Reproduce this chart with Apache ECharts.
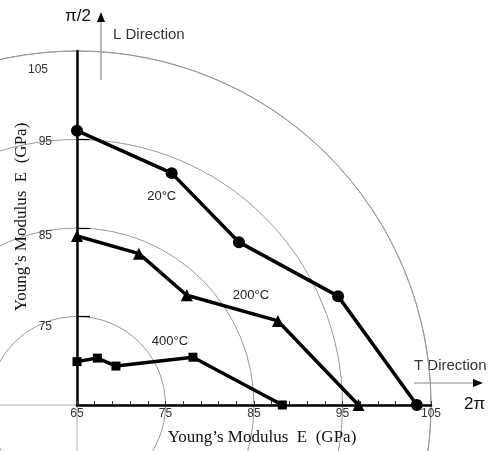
<!DOCTYPE html>
<html>
<head>
<meta charset="utf-8">
<script src="https://cdn.jsdelivr.net/npm/echarts@6.0.0/dist/echarts.min.js"></script>
<style>
html,body{margin:0;padding:0;background:#fff;}
#chart{width:488px;height:451px;}
</style>
</head>
<body>
<div id="chart"></div>
<script>
// ---- data ----
var series20 = [[65, 96.0], [75.7, 91.2], [83.3, 83.4], [94.5, 77.3], [103.4, 65]];
var series200 = [[65, 84.1], [72.0, 82.1], [77.4, 77.4], [87.7, 74.5], [96.8, 65]];
var series400 = [[65, 69.9], [67.3, 70.3], [69.4, 69.4], [78.1, 70.4], [88.2, 65]];
var seriesNames = ['20°C', '200°C', '400°C'];
var xTickLabels = [65, 75, 85, 95, 105];
var xMinorTicks = [65, 67, 69, 71, 73, 75, 77, 79, 81, 83, 85, 87, 89, 91, 93, 95, 97, 99, 101, 103, 105];
var yTickLabels = [75, 85, 95, 105];
var yTicks = [75, 85, 95];
var circleRadii = [10, 20, 30, 40];

var chart = echarts.init(document.getElementById('chart'), null, {renderer: 'canvas'});

var yRich = {
  s75: {padding: [20, 0, 0, 0]},
  s85: {padding: [16, 0, 0, 0]},
  s95: {padding: [4, 0, 0, 0]},
  s105: {padding: [38, 4, 0, 0]}
};
['s75','s85','s95','s105'].forEach(function(k){
  yRich[k].fontSize = 12; yRich[k].color = '#333'; yRich[k].fontFamily = 'Liberation Sans, Arial';
});

function lineSeries(name, data, symbol, size, labelIdx, labelOffset) {
  return {
    type: 'line',
    name: name,
    data: data.map(function (d, i) {
      var item = {value: d};
      if (i === labelIdx) {
        item.label = {
          show: true, position: 'inside', offset: labelOffset,
          formatter: name, color: '#222', fontSize: 13,
          fontFamily: 'Liberation Sans, Arial'
        };
      }
      return item;
    }),
    symbol: symbol,
    symbolSize: size,
    showAllSymbol: true,
    lineStyle: {color: '#000', width: 3.5},
    itemStyle: {color: '#000'},
    label: {show: false},
    z: 5,
    animation: false
  };
}

var option = {
  animation: false,
  backgroundColor: '#fff',
  grid: {left: 77, top: 51, width: 354, height: 354, containLabel: false, outerBoundsMode: 'none'},
  polar: {center: [77, 405], radius: 354},
  radiusAxis: {
    type: 'value', min: 0, max: circleRadii[circleRadii.length - 1], interval: 10,
    axisLine: {show: false}, axisTick: {show: false}, axisLabel: {show: false},
    splitLine: {show: true, lineStyle: {color: '#999', width: 1}}
  },
  angleAxis: {
    type: 'value', min: 0, max: 360, interval: 90, startAngle: 0,
    axisLine: {show: true, lineStyle: {color: '#999', width: 1}},
    axisTick: {show: false}, axisLabel: {show: false},
    splitLine: {show: true, lineStyle: {color: '#aaa', width: 1}}
  },
  xAxis: {
    type: 'value', min: 65, max: 105,
    axisLine: {show: true, onZero: false, lineStyle: {color: '#000', width: 2.5}},
    axisTick: {show: true, inside: true, length: 4, customValues: xMinorTicks, lineStyle: {color: '#333', width: 1}},
    axisLabel: {show: true, customValues: xTickLabels, margin: 3, fontSize: 12, color: '#333', fontFamily: 'Liberation Sans, Arial'},
    splitLine: {show: false},
    name: 'Young\u2019s Modulus  E  (GPa)',
    nameLocation: 'middle', nameGap: 24, nameMoveOverlap: false,
    nameTextStyle: {fontFamily: 'Liberation Serif, Times New Roman', fontSize: 17, color: '#111', padding: [0, 0, 0, 16]}
  },
  yAxis: {
    type: 'value', min: 65, max: 105,
    axisLine: {show: true, onZero: false, lineStyle: {color: '#000', width: 2.5}},
    axisTick: {show: true, inside: true, length: 13, customValues: yTicks, lineStyle: {color: '#000', width: 1.2}},
    axisLabel: {
      show: true, customValues: yTickLabels, margin: 25,
      formatter: function (v) { return '{s' + v + '|' + v + '}'; },
      rich: yRich
    },
    splitLine: {show: false},
    name: 'Young\u2019s Modulus  E  (GPa)',
    nameLocation: 'middle', nameGap: 47, nameMoveOverlap: false,
    nameTextStyle: {fontFamily: 'Liberation Serif, Times New Roman', fontSize: 17, color: '#111', padding: [0, 0, 0, 22]}
  },
  graphic: [
    {type: 'line', shape: {x1: 101, y1: 80, x2: 101, y2: 20}, style: {stroke: '#888', lineWidth: 1.2}},
    {type: 'polygon', shape: {points: [[101, 12], [97, 22], [105, 22]]}, style: {fill: '#000'}},
    {type: 'line', shape: {x1: 414, y1: 383, x2: 474, y2: 383}, style: {stroke: '#888', lineWidth: 1.2}},
    {type: 'polygon', shape: {points: [[483, 383], [473, 379], [473, 387]]}, style: {fill: '#000'}},
    {type: 'text', left: 65, top: 8, style: {text: '\u03c0/2', fontSize: 17, fill: '#111', fontFamily: 'Liberation Sans, Arial'}},
    {type: 'text', left: 113, top: 27, style: {text: 'L Direction', fontSize: 15, fill: '#333', fontFamily: 'Liberation Sans, Arial'}},
    {type: 'text', left: 414, top: 358, style: {text: 'T Direction', fontSize: 15, fill: '#333', fontFamily: 'Liberation Sans, Arial'}},
    {type: 'text', left: 464, top: 396, style: {text: '2\u03c0', fontSize: 17, fill: '#111', fontFamily: 'Liberation Sans, Arial'}}
  ],
  series: [
    lineSeries(seriesNames[0], series20, 'circle', 12, 1, [-10, 23]),
    lineSeries(seriesNames[1], series200, 'triangle', 12, 3, [-27, -26]),
    lineSeries(seriesNames[2], series400, 'rect', 9, 3, [-23, -16])
  ]
};
chart.setOption(option);
</script>
</body>
</html>
